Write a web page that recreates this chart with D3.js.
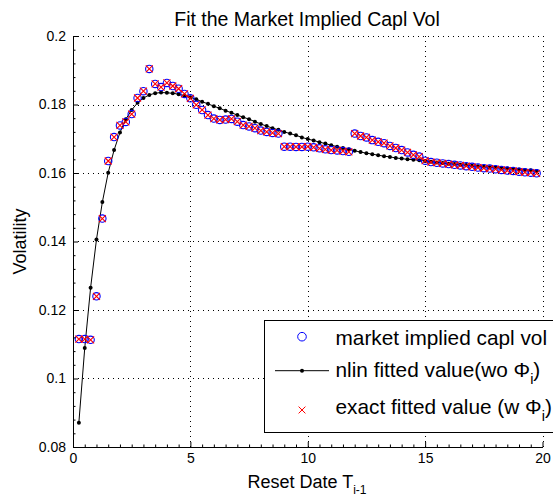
<!DOCTYPE html>
<html>
<head>
<meta charset="utf-8">
<script src="https://cdn.jsdelivr.net/npm/d3@7"></script>
<style>
  html, body { margin: 0; padding: 0; background: #fff; }
  svg { display: block; font-family: "Liberation Sans", Arial, Helvetica, sans-serif; }
</style>
</head>
<body>
<svg id="chart" width="553" height="497"></svg>
<script>
// Reset dates T_{i-1} (years)
const resetDates = [
  0.25,0.5,0.75,1.0,1.25,1.5,1.75,2.0,2.25,2.5,2.75,3.0,3.25,3.5,3.75,4.0,4.25,4.5,4.75,5.0,
  5.25,5.5,5.75,6.0,6.25,6.5,6.75,7.0,7.25,7.5,7.75,8.0,8.25,8.5,8.75,9.0,9.25,9.5,9.75,10.0,
  10.25,10.5,10.75,11.0,11.25,11.5,11.75,12.0,12.25,12.5,12.75,13.0,13.25,13.5,13.75,14.0,14.25,14.5,14.75,15.0,
  15.25,15.5,15.75,16.0,16.25,16.5,16.75,17.0,17.25,17.5,17.75,18.0,18.25,18.5,18.75,19.0,19.25,19.5,19.75
];
// market implied capl vol
const marketVol = [
  0.1115,0.1115,0.1113,0.1240,0.1467,0.1635,0.1705,0.1739,0.1749,0.1772,0.1819,0.1839,0.1904,0.1860,0.1851,0.1863,0.1854,0.1846,0.1831,0.1818,
  0.1799,0.1784,0.1769,0.1759,0.1755,0.1756,0.1758,0.1750,0.1740,0.1736,0.1731,0.1724,0.1720,0.1717,0.1715,0.1677,0.1677,0.1676,0.1676,0.1677,
  0.1675,0.1672,0.1669,0.1667,0.1666,0.1664,0.1662,0.1715,0.1708,0.1704,0.1696,0.1691,0.1687,0.1679,0.1673,0.1667,0.1660,0.1653,0.1648,0.1636,
  0.1632,0.1630,0.1628,0.1626,0.1624,0.1622,0.1620,0.1618,0.1616,0.1614,0.1613,0.1611,0.1609,0.1607,0.1606,0.1604,0.1602,0.1601,0.1599
];
// nlin fitted value (wo Phi_i)
const nlinFit = [
  0.0871,0.1089,0.1265,0.1406,0.1515,0.1601,0.1667,0.1718,0.1757,0.1784,0.1805,0.1819,0.1828,0.1833,0.1835,0.1834,0.1833,0.1830,0.1826,0.1821,
  0.1815,0.1808,0.1802,0.1795,0.1789,0.1782,0.1776,0.1769,0.1763,0.1757,0.1750,0.1743,0.1737,0.1731,0.1726,0.1720,0.1715,0.1710,0.1704,0.1699,
  0.1695,0.1690,0.1686,0.1681,0.1677,0.1673,0.1669,0.1665,0.1661,0.1658,0.1655,0.1652,0.1649,0.1647,0.1644,0.1642,0.1640,0.1639,0.1637,0.1635,
  0.1633,0.1631,0.1629,0.1627,0.1626,0.1624,0.1623,0.1621,0.1620,0.1618,0.1617,0.1616,0.1614,0.1613,0.1612,0.1610,0.1609,0.1608,0.1606
];
// exact fitted value (w Phi_i)
const exactFit = [
  0.1115,0.1115,0.1113,0.1240,0.1467,0.1635,0.1705,0.1739,0.1749,0.1772,0.1819,0.1839,0.1904,0.1860,0.1851,0.1863,0.1854,0.1846,0.1831,0.1818,
  0.1799,0.1784,0.1769,0.1759,0.1755,0.1756,0.1758,0.1750,0.1740,0.1736,0.1731,0.1724,0.1720,0.1717,0.1715,0.1677,0.1677,0.1676,0.1676,0.1677,
  0.1675,0.1672,0.1669,0.1667,0.1666,0.1664,0.1662,0.1715,0.1708,0.1704,0.1696,0.1691,0.1687,0.1679,0.1673,0.1667,0.1660,0.1653,0.1648,0.1636,
  0.1632,0.1630,0.1628,0.1626,0.1624,0.1622,0.1620,0.1618,0.1616,0.1614,0.1613,0.1611,0.1609,0.1607,0.1606,0.1604,0.1602,0.1601,0.1599
];
const xTicks = [0, 5, 10, 15, 20];
const yTicks = [0.08, 0.1, 0.12, 0.14, 0.16, 0.18, 0.2];
const yTickLabels = ["0.08", "0.1", "0.12", "0.14", "0.16", "0.18", "0.2"];

const svg = d3.select("#chart");
const x = d3.scaleLinear().domain([0, 20]).range([73, 542.5]);
const y = d3.scaleLinear().domain([0.08, 0.2]).range([447, 36]);

// grid
const grid = svg.append("g").attr("stroke", "#000").attr("stroke-width", 1)
  .attr("stroke-dasharray", "1,4").attr("shape-rendering", "crispEdges");
grid.selectAll("line.gx").data(xTicks.filter(d => d > 0)).enter().append("line")
  .attr("x1", d => Math.round(x(d)) + 0.5).attr("x2", d => Math.round(x(d)) + 0.5)
  .attr("y1", y(0.2)).attr("y2", y(0.08));
grid.selectAll("line.gy").data(yTicks.filter(d => d > 0.08)).enter().append("line")
  .attr("y1", d => Math.round(y(d)) + 0.5).attr("y2", d => Math.round(y(d)) + 0.5)
  .attr("x1", x(0)).attr("x2", x(20));

// fitted curve
const line = d3.line().x((d, i) => x(resetDates[i])).y(d => y(d));
svg.append("path").datum(nlinFit).attr("d", line)
  .attr("fill", "none").attr("stroke", "#000").attr("stroke-width", 1);
svg.append("g").selectAll("circle").data(nlinFit).enter().append("circle")
  .attr("cx", (d, i) => x(resetDates[i])).attr("cy", d => y(d)).attr("r", 2).attr("fill", "#000");

// market circles
svg.append("g").selectAll("circle").data(marketVol).enter().append("circle")
  .attr("cx", (d, i) => x(resetDates[i])).attr("cy", d => y(d)).attr("r", 3.7)
  .attr("fill", "none").attr("stroke", "#0000ff").attr("stroke-width", 1.1);

// exact fit crosses
const s = 3.5;
svg.append("g").selectAll("path").data(exactFit).enter().append("path")
  .attr("d", (d, i) => {
    const cx = x(resetDates[i]), cy = y(d);
    return `M${cx - s},${cy - s}L${cx + s},${cy + s}M${cx - s},${cy + s}L${cx + s},${cy - s}`;
  })
  .attr("fill", "none").attr("stroke", "#ff0000").attr("stroke-width", 1.1);

// axes
const fontTick = 14;
const xAxis = d3.axisBottom(x).tickValues(xTicks).tickFormat(d3.format("d"))
  .tickSizeInner(-5).tickSizeOuter(0).tickPadding(6);
const gx = svg.append("g").attr("transform", `translate(0,${y(0.08)})`).call(xAxis);
gx.selectAll("text").attr("font-size", fontTick).attr("fill", "#000")
  .attr("font-family", "Liberation Sans, Arial, sans-serif");
const xMinor = d3.range(0, 20.001, 0.5).filter(v => v % 5 !== 0);
svg.append("g").attr("transform", `translate(0,${y(0.08)})`)
  .call(d3.axisBottom(x).tickValues(xMinor).tickSizeInner(-2.5).tickSizeOuter(0).tickFormat(""))
  .select(".domain").remove();

const yAxis = d3.axisLeft(y).tickValues(yTicks).tickFormat((d, i) => yTickLabels[i])
  .tickSizeInner(-5).tickSizeOuter(0).tickPadding(7);
const gy = svg.append("g").attr("transform", `translate(${x(0)},0)`).call(yAxis);
gy.selectAll("text").attr("font-size", fontTick).attr("fill", "#000")
  .attr("font-family", "Liberation Sans, Arial, sans-serif");
const yMinor = d3.range(0.08, 0.2001, 0.004).filter(v => Math.abs(v * 50 - Math.round(v * 50)) > 1e-6);
svg.append("g").attr("transform", `translate(${x(0)},0)`)
  .call(d3.axisLeft(y).tickValues(yMinor).tickSizeInner(-2.5).tickSizeOuter(0).tickFormat(""))
  .select(".domain").remove();
svg.selectAll(".domain").attr("stroke", "#000");

// title
svg.append("text").attr("x", 307).attr("y", 25.5).attr("text-anchor", "middle")
  .attr("font-size", 19.5).attr("fill", "#000").text("Fit the Market Implied Capl Vol");

// x label
const xl = svg.append("text").attr("x", 307).attr("y", 488).attr("text-anchor", "middle")
  .attr("font-size", 18).attr("fill", "#000");
xl.append("tspan").text("Reset Date T");
xl.append("tspan").attr("font-size", 12).attr("dy", 6).text("i-1");

// y label
svg.append("text").attr("transform", "translate(26,241.5) rotate(-90)")
  .attr("text-anchor", "middle").attr("font-size", 18).attr("fill", "#000").text("Volatility");

// legend
const lg = svg.append("g");
lg.append("rect").attr("x", 264.5).attr("y", 320.5).attr("width", 300).attr("height", 112)
  .attr("fill", "#fff").attr("stroke", "#000").attr("stroke-width", 1);
const lx = 302, tx = 335.5, lfs = 20.8;
lg.append("circle").attr("cx", lx).attr("cy", 336.7).attr("r", 4.3)
  .attr("fill", "none").attr("stroke", "#0000ff").attr("stroke-width", 1);
lg.append("text").attr("x", tx).attr("y", 345).attr("font-size", lfs).attr("fill", "#000")
  .text("market implied capl vol");
lg.append("line").attr("x1", 275).attr("x2", 329).attr("y1", 370.7).attr("y2", 370.7)
  .attr("stroke", "#000").attr("stroke-width", 1);
lg.append("circle").attr("cx", lx).attr("cy", 370.7).attr("r", 2).attr("fill", "#000");
const t2 = lg.append("text").attr("x", tx).attr("y", 376.5).attr("font-size", lfs).attr("fill", "#000");
t2.append("tspan").text("nlin fitted value(wo \u03A6");
t2.append("tspan").attr("font-size", 14.5).attr("dy", 7).text("i");
t2.append("tspan").attr("dy", -7).text(")");
lg.append("path")
  .attr("d", `M${lx - 3.4},${410 - 3.4}L${lx + 3.4},${410 + 3.4}M${lx - 3.4},${410 + 3.4}L${lx + 3.4},${410 - 3.4}`)
  .attr("stroke", "#ff0000").attr("stroke-width", 1).attr("fill", "none");
const t3 = lg.append("text").attr("x", tx).attr("y", 414).attr("font-size", lfs).attr("fill", "#000");
t3.append("tspan").text("exact fitted value (w \u03A6");
t3.append("tspan").attr("font-size", 14.5).attr("dy", 7).text("i");
t3.append("tspan").attr("dy", -7).text(")");
</script>
</body>
</html>
